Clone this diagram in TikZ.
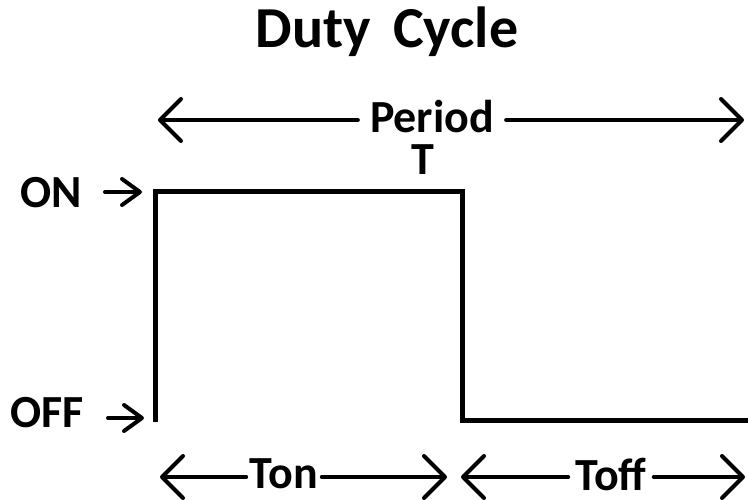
\documentclass[tikz,border=0pt]{standalone}
\usepackage{fontspec}
\setmainfont{Carlito}
\usetikzlibrary{arrows.meta}
\begin{document}
\begin{tikzpicture}[x=1pt,y=-1pt,
  lbl/.style={font=\fontsize{46}{46}\selectfont\bfseries, inner ysep=0pt, anchor=base},
  dim/.style={line width=4pt, line cap=round, -{Straight Barb[length=21pt,width=42pt,round]}},
  tag/.style={line width=4pt, line cap=round, -{Straight Barb[length=18pt,width=26pt,round]}},
  wave/.style={line width=5pt, line join=miter, line cap=butt}]
\useasboundingbox (0,0) rectangle (748,500);

% title
\node[lbl, inner xsep=0pt, font=\fontsize{58}{58}\selectfont\bfseries] (title) at (387,48) {Duty\hspace{22pt}Cycle};

% period dimension
\node[lbl, inner xsep=12pt] (period) at (432,133) {Period};
\node[lbl, inner xsep=0pt] (T) at (423,175) {T};
\coordinate (pl) at (158,120);
\coordinate (pr) at (744,120);
\draw[dim] (period.west |- pl) -- (pl);
\draw[dim] (period.east |- pr) -- (pr);

% signal levels
\node[lbl, inner xsep=0pt] (on) at (51,208) {ON};
\node[lbl, inner xsep=0pt] (off) at (47,427) {OFF};
\coordinate (onA) at (105,192);
\coordinate (onB) at (142,192);
\coordinate (offA) at (108,418);
\coordinate (offB) at (144,418);
\draw[tag] (onA) -- (onB);
\draw[tag] (offA) -- (offB);

% waveform
\coordinate (w0) at (155,422);
\coordinate (w1) at (155,192);
\coordinate (w2) at (462,192);
\coordinate (w3) at (462,420);
\coordinate (w4) at (750,420);
\draw[wave] (w0) -- (w1) -- (w2) -- (w3) -- (w4);

% on / off time dimensions
\node[lbl, inner xsep=3.5pt] (ton) at (284,488) {Ton};
\node[lbl, inner xsep=7pt] (toff) at (611,490) {Toff};
\coordinate (tl) at (160,477);
\coordinate (tr) at (447,477);
\coordinate (fl) at (461,477);
\coordinate (fr) at (745,477);
\draw[dim] (ton.west |- tl) -- (tl);
\draw[dim] (ton.east |- tr) -- (tr);
\draw[dim] (toff.west |- fl) -- (fl);
\draw[dim] (toff.east |- fr) -- (fr);
\end{tikzpicture}
\end{document}
